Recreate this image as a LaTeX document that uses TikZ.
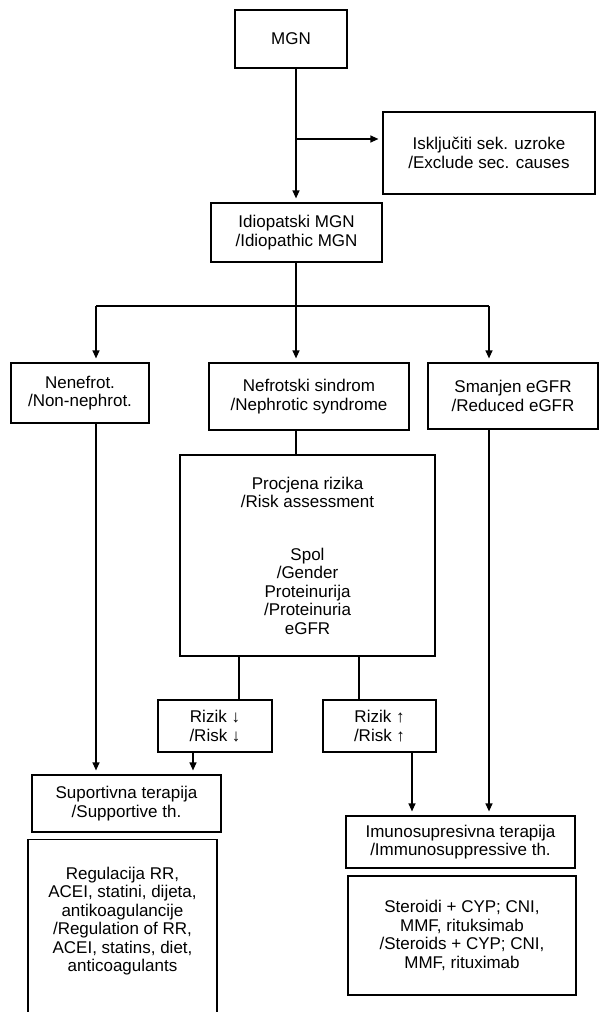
\documentclass[tikz,border=0pt]{standalone}
\usepackage{fontspec}
\setmainfont{Liberation Sans}
\usetikzlibrary{arrows.meta}

\begin{document}
\begin{tikzpicture}[x=1pt, y=-1pt, line width=1.2pt,
    box/.style={draw, align=center, inner sep=0pt, font=\fontsize{17}{18.5}\selectfont},
    arr/.style={-{Triangle[length=8pt,width=7pt]}, shorten >=4pt}]
    \useasboundingbox (0,0) rectangle (600,1012);

    % boxes
    \node[box, minimum width=112, minimum height=58] (mgn) at (291,39) {MGN};
    \node[box, minimum width=212, minimum height=82] (excl) at (489,153) {Isključiti sek. uzroke\\/Exclude sec. causes};
    \node[box, minimum width=171, minimum height=59] (idio) at (296.5,232.5) {Idiopatski MGN\\/Idiopathic MGN};

    \node[box, minimum width=138, minimum height=60] (nonneph) at (80,393) {Nenefrot.\\/Non-nephrot.};
    \node[box, minimum width=200, minimum height=67] (neph) at (309,396.5) {Nefrotski sindrom\\/Nephrotic syndrome};
    \node[box, minimum width=170, minimum height=66] (egfr) at (513,396) {Smanjen eGFR\\/Reduced eGFR};

    \node[box, minimum width=255, minimum height=201] (risk) at (307.5,555.5) {Procjena rizika\\/Risk assessment\\[34pt]Spol\\/Gender\\Proteinurija\\/Proteinuria\\eGFR};
    \node[box, minimum width=114, minimum height=52] (rlow) at (215,726) {Rizik ↓\\/Risk ↓};
    \node[box, minimum width=113, minimum height=52] (rhigh) at (379.5,726) {Rizik ↑\\/Risk ↑};

    \node[box, minimum width=189, minimum height=57] (supp) at (126.5,803.5) {Suportivna terapija\\/Supportive th.};
    \node[box, minimum width=189, minimum height=175, anchor=north] (suppdet) at (122.5,839) {};
    \node[box, draw=none] (suppdettxt) at (122.5,921) {Regulacija RR,\\ACEI, statini, dijeta,\\antikoagulancije\\/Regulation of RR,\\ACEI, statins, diet,\\anticoagulants};
    \node[box, minimum width=229, minimum height=52] (immuno) at (460.5,842) {Imunosupresivna terapija\\/Immunosuppressive th.};
    \node[box, minimum width=228, minimum height=119] (immdet) at (462,935.5) {Steroidi + CYP; CNI,\\MMF, rituksimab\\/Steroids + CYP; CNI,\\MMF, rituximab};

    % branch points
    \coordinate (split) at (296,139);
    \coordinate (fork) at (296,306);
    \coordinate (lft) at (96,306);
    \coordinate (rgt) at (489,306);
    \coordinate (rl) at (239,0);
    \coordinate (rh) at (359,0);
    \coordinate (sl) at (193,0);
    \coordinate (sh) at (412,0);

    % connectors
    \draw[arr] (split |- mgn.south) -- (split |- idio.north);
    \draw[arr] (split) -- (split -| excl.west);
    \draw (fork |- idio.south) -- (fork);
    \draw (lft) -- (rgt);
    \draw[arr] (lft) -- (lft |- nonneph.north);
    \draw[arr] (fork) -- (fork |- neph.north);
    \draw[arr] (rgt) -- (rgt |- egfr.north);
    \draw[arr] (lft |- nonneph.south) -- (lft |- supp.north);
    \draw (fork |- neph.south) -- (fork |- risk.north);
    \draw[arr] (rgt |- egfr.south) -- (rgt |- immuno.north);
    \draw (rl |- risk.south) -- (rl |- rlow.north);
    \draw (rh |- risk.south) -- (rh |- rhigh.north);
    \draw[arr] (sl |- rlow.south) -- (sl |- supp.north);
    \draw[arr] (sh |- rhigh.south) -- (sh |- immuno.north);
\end{tikzpicture}
\end{document}
